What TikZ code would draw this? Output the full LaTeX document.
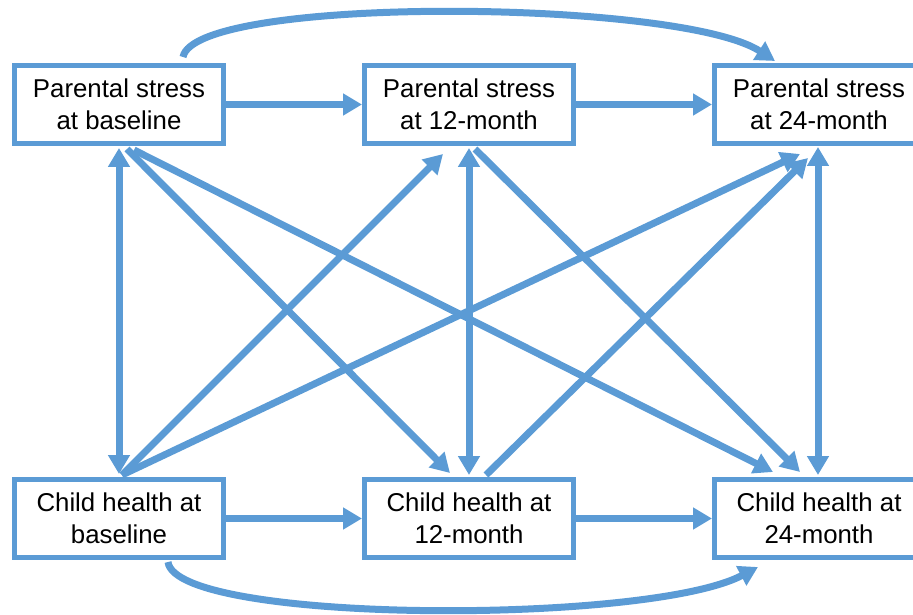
\documentclass[tikz,border=0pt]{standalone}
\usepackage{fontspec}
\setmainfont{Liberation Sans}
\usetikzlibrary{arrows.meta}
\definecolor{linkblue}{HTML}{5B9BD5}

\begin{document}
\begin{tikzpicture}[x=1pt,y=-1pt,
        varbox/.style={draw=linkblue, line width=5pt, minimum width=209pt, minimum height=78pt,
            inner sep=0pt, align=center, font=\fontsize{25.8}{32}\selectfont},
        link/.style={draw=linkblue, line width=7pt, -{Triangle[length=19pt,width=21pt]}},
        twoway/.style={link, {Triangle[length=19pt,width=21pt]}-{Triangle[length=19pt,width=21pt]}}]
        \useasboundingbox (0,0) rectangle (913,615);

        % Parental stress row
        \node[varbox] (ps0) at (119,104.5) {Parental stress\\at baseline};
        \node[varbox] (ps12) at (469,104.5) {Parental stress\\at 12-month};
        \node[varbox] (ps24) at (819,104.5) {Parental stress\\at 24-month};

        % Child health row
        \node[varbox] (ch0) at (119,518.5) {Child health at\\baseline};
        \node[varbox] (ch12) at (469,518.5) {Child health at\\12-month};
        \node[varbox] (ch24) at (819,518.5) {Child health at\\24-month};

        % Stability paths
        \draw[link] (ps0) -- (ps12);
        \draw[link] (ps12) -- (ps24);
        \draw[link] (ch0) -- (ch12);
        \draw[link] (ch12) -- (ch24);
        \draw[link] ([xshift=64pt,yshift=6pt]ps0.north) .. controls +(12,-62) and +(-95,-62) .. ([xshift=-44pt,yshift=2pt]ps24.north);
        \draw[link] ([xshift=49pt,yshift=-2pt]ch0.south) .. controls +(8,62) and +(-110,58) .. ([xshift=-61pt,yshift=-7pt]ch24.south);

        % Concurrent associations
        \draw[twoway] ([yshift=-2pt]ps0.south) -- ([yshift=3pt]ch0.north);
        \draw[twoway] ([yshift=-2pt]ps12.south) -- ([yshift=2pt]ch12.north);
        \draw[twoway] ([xshift=-1pt,yshift=-1pt]ps24.south) -- ([xshift=-1pt,yshift=2pt]ch24.north);

        % Cross-lagged paths
        \draw[link] ([xshift=8pt,yshift=-3pt]ps0.south) -- ([xshift=-19pt,yshift=4pt]ch12.north);
        \draw[link] ([xshift=15pt,yshift=-4pt]ps0.south) -- ([xshift=-46pt,yshift=5pt]ch24.north);
        \draw[link] ([xshift=3pt,yshift=2pt]ch0.north) -- ([xshift=-26pt,yshift=-8pt]ps12.south);
        \draw[link] ([xshift=3pt,yshift=2pt]ch0.north) -- ([xshift=-19pt,yshift=-8pt]ps24.south);
        \draw[link] ([xshift=6pt,yshift=-3pt]ps12.south) -- ([xshift=-19pt,yshift=5pt]ch24.north);
        \draw[link] ([xshift=17pt,yshift=2pt]ch12.north) -- ([xshift=-11pt,yshift=-12pt]ps24.south);
    \end{tikzpicture}
\end{document}
